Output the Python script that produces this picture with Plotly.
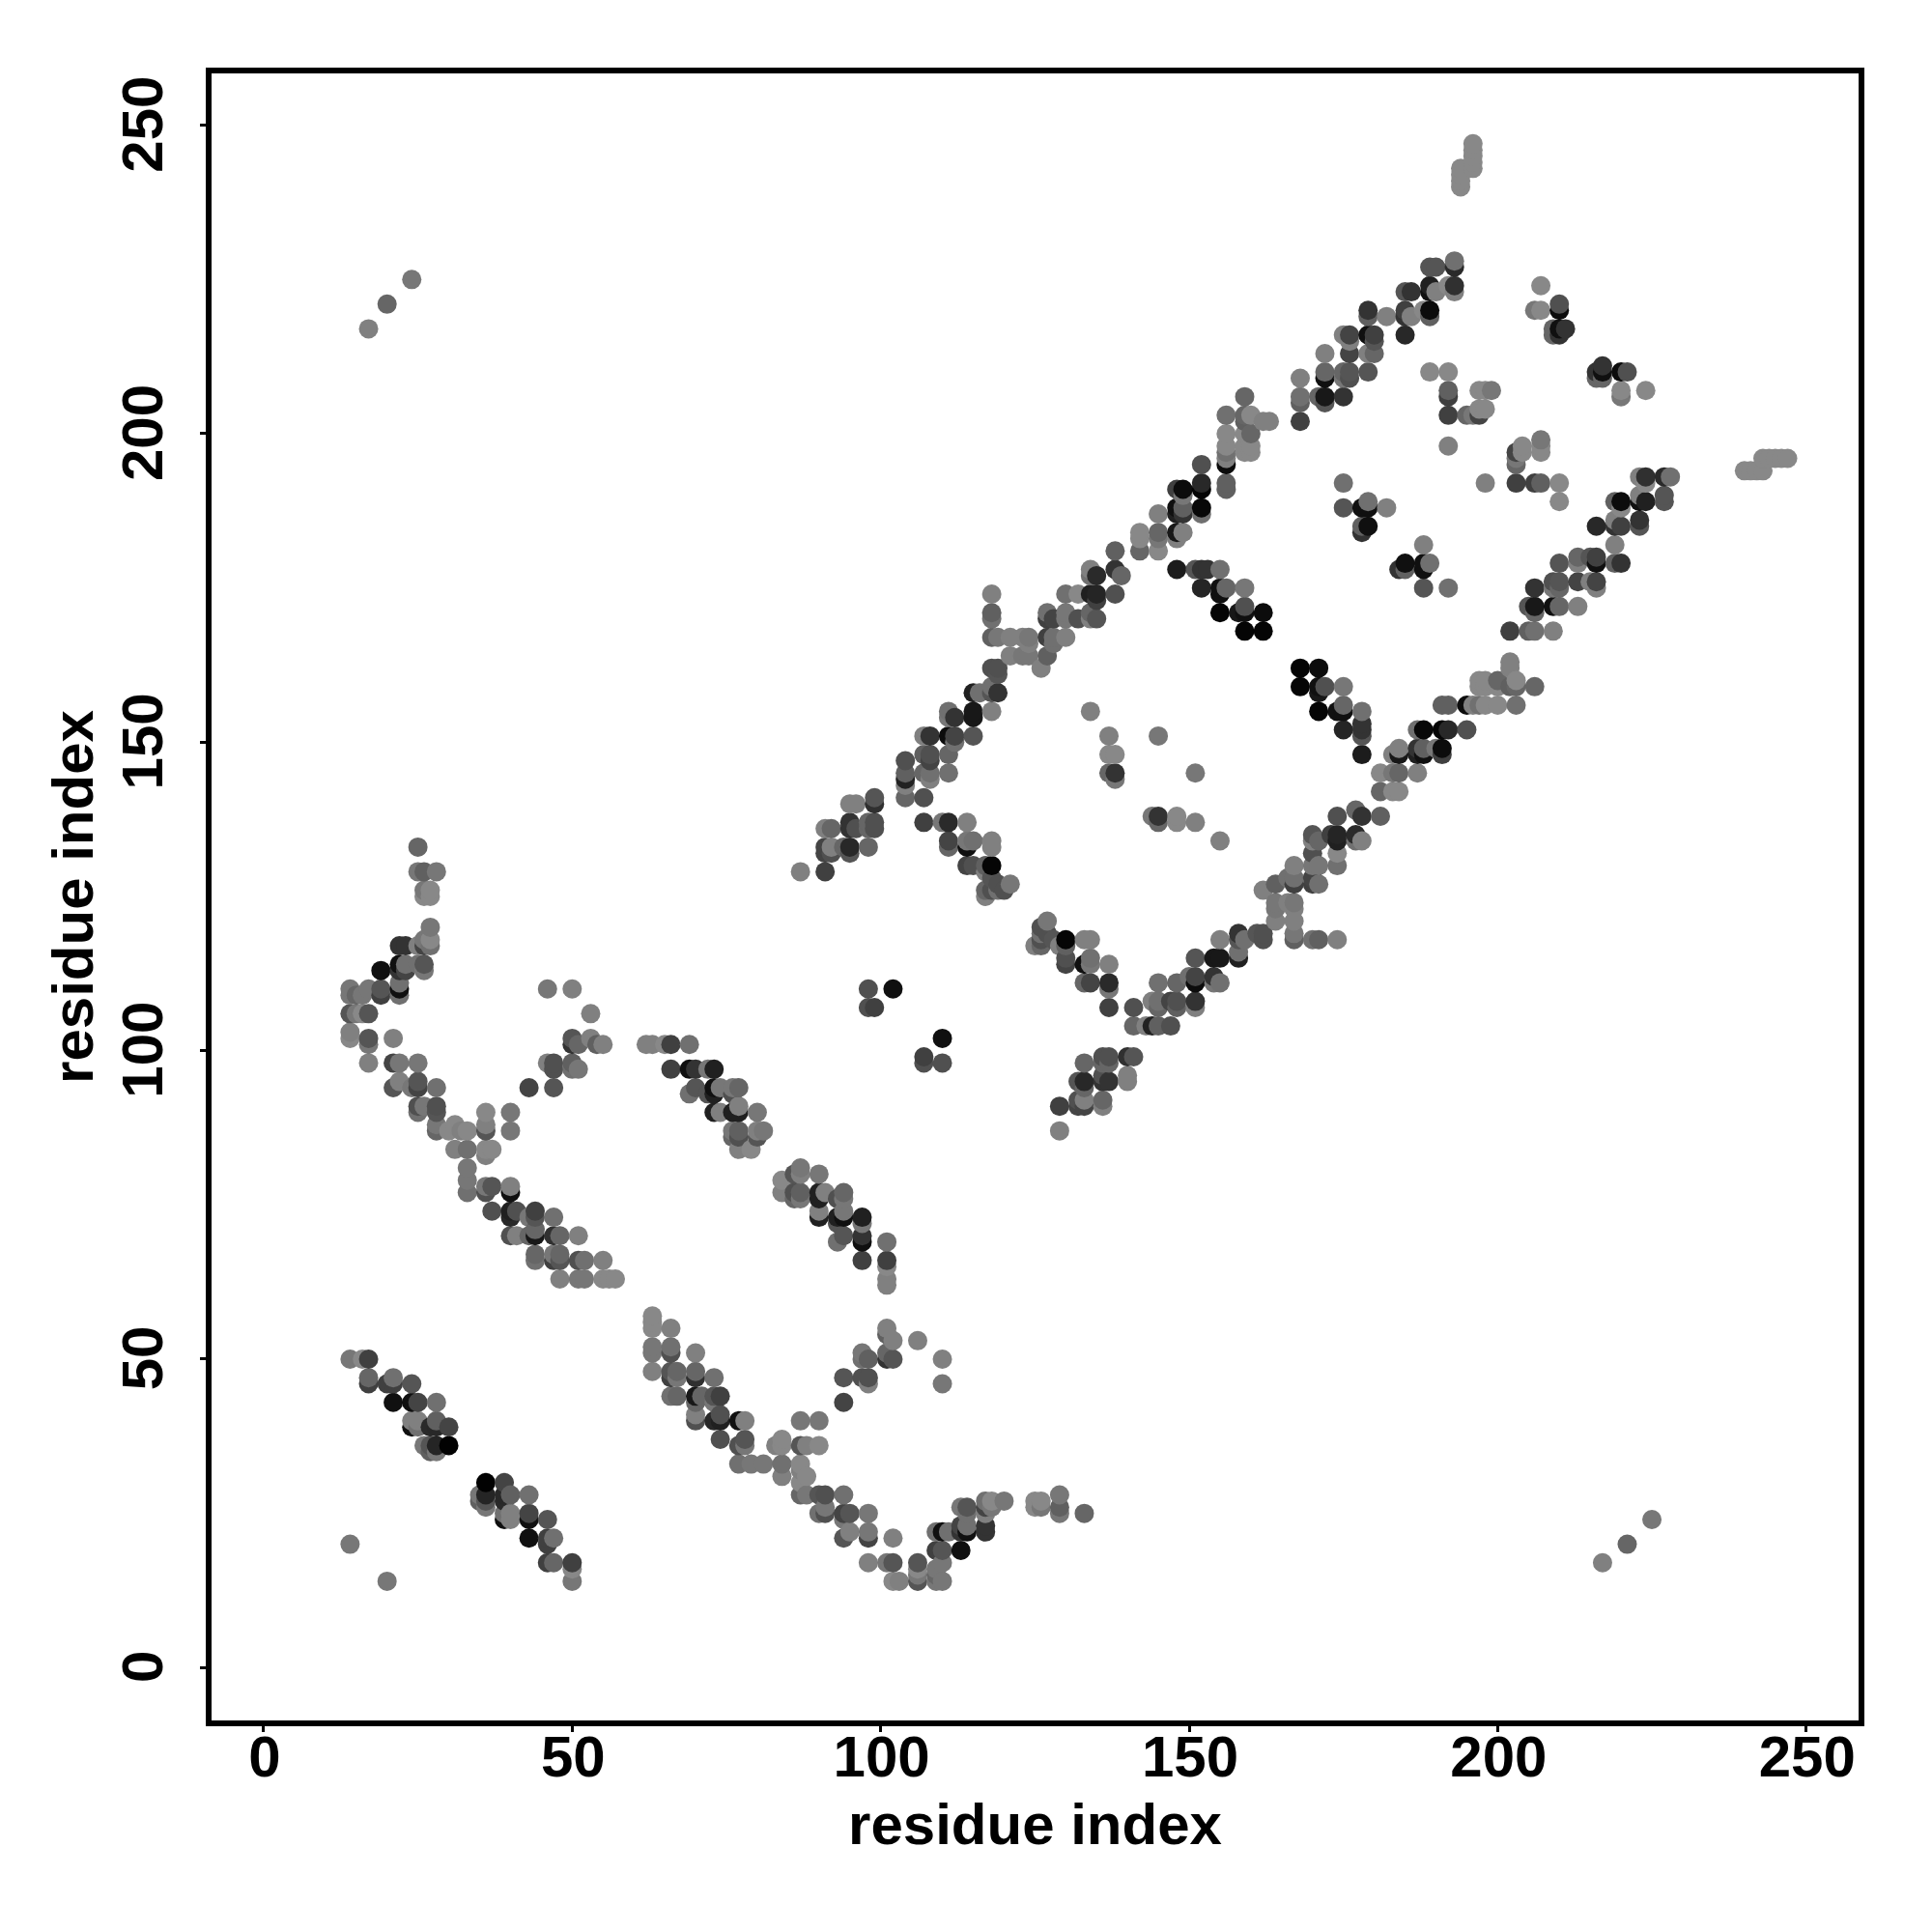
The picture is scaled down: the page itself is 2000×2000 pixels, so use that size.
import plotly.graph_objects as go

# Contact pairs (residue i, residue j, grey level 0-255); the map is symmetric.
top_strip = [
    (194,243,0x88),(194,242,0x88),(194,241,0x88),(194,240,0x88),
    (196,247,0x88),(196,246,0x88),(196,245,0x88),(196,244,0x88),(196,243,0x88),
    (193,228,0x70),(193,227,0x2a),(189,227,0x55),(190,227,0x55),
    (193,224,0x30),(193,223,0x80),(192,224,0x88),(189,224,0x20),(189,223,0x10),(190,223,0x80),
    (185,223,0x55),(186,223,0x33),(189,220,0x0c),(189,219,0x60),(188,220,0x88),
    (185,220,0x40),(185,219,0x33),(186,219,0x80),(185,216,0x28),(179,220,0x33),(179,219,0x60),
    (182,219,0x80),(176,216,0x44),(175,216,0x80),(176,215,0x80),(176,213,0x44),
    (179,216,0x10),(180,216,0x40),(180,215,0x55),(180,213,0x66),(179,213,0x80),(179,210,0x55),
    (172,213,0x80),(172,210,0x66),(172,209,0x10),(175,210,0x66),(176,210,0x55),(176,209,0x50),
    (175,209,0x77),(168,209,0x80),(168,206,0x70),(168,205,0x60),(171,206,0x66),(172,206,0x18),
    (172,205,0x55),(175,206,0x33),(168,202,0x40),(159,206,0x66),
    (156,203,0x70),(156,200,0x88),(156,198,0x88),(156,197,0x70),(156,196,0x80),(156,195,0x0c),
    (156,192,0x60),(156,191,0x60),(159,203,0x66),(160,203,0x88),(159,202,0x60),(160,200,0x66),
    (159,200,0x88),(159,198,0x88),(160,198,0x88),(159,197,0x88),(160,197,0x88),
    (162,202,0x80),(163,202,0x80),
    (152,195,0x50),(152,192,0x28),(152,191,0x05),(152,188,0x08),(152,187,0x70),
    (149,191,0x0c),(148,191,0x40),(149,190,0x77),(148,188,0x10),(149,188,0x60),
    (148,187,0x20),(149,187,0x33),(145,187,0x80),(145,184,0x66),(145,183,0x77),(145,181,0x88),
    (148,184,0x18),(149,184,0x80),(148,183,0x80),(142,184,0x88),(142,183,0x88),(142,181,0x66),
    (138,181,0x60),
]
inner_top = [
    (207,224,0x88),(206,220,0x77),(207,220,0x88),(210,221,0x50),(210,220,0x0c),
    (209,217,0x66),(210,217,0x10),(210,216,0x33),(211,217,0x33),(209,216,0x66),
    (189,210,0x88),(192,210,0x88),(192,207,0x60),(192,206,0x40),(192,203,0x40),
    (195,203,0x66),(196,203,0x77),(197,203,0x44),(197,204,0x88),(198,204,0x88),
    (197,207,0x88),(198,207,0x88),(199,207,0x77),(192,198,0x80),
    (175,192,0x70),(175,188,0x55),(178,188,0x10),(179,188,0x10),(179,189,0x70),(182,188,0x80),
    (179,185,0x10),(178,185,0x60),(178,184,0x33),
    (155,178,0x70),(153,178,0x33),(148,178,0x1c),(151,178,0x55),(152,178,0x33),
    (152,175,0x25),(155,175,0x10),(156,175,0x66),(155,174,0x10),(159,175,0x77),
    (155,171,0x05),(158,171,0x18),(159,172,0x50),(159,171,0x10),(162,171,0x0c),
    (159,168,0x05),(162,168,0x05),
]
mid_strip = [
    (134,178,0x80),(135,177,0x2a),(134,177,0x70),(138,178,0x33),(139,177,0x66),(138,174,0x50),
    (135,174,0x25),(134,174,0x20),(135,173,0x40),(132,174,0x88),(130,174,0x70),(118,174,0x80),
    (118,171,0x60),(118,170,0x70),(127,171,0x70),(127,170,0x40),(128,170,0x44),(130,171,0x77),
    (130,170,0x77),(132,170,0x50),(134,171,0x66),(134,170,0x80),(135,170,0x55),
    (118,167,0x60),(119,167,0x77),(121,167,0x80),(123,167,0x80),(124,167,0x77),(127,167,0x40),
    (128,167,0x70),(130,167,0x80),(121,164,0x80),(123,164,0x77),(124,164,0x77),(127,164,0x60),
    (124,166,0x80),(128,166,0x70),(126,162,0x80),(118,162,0x50),(119,162,0x50),(119,161,0x55),
    (118,159,0x70),(115,158,0x20),(116,158,0x70),(118,158,0x55),(119,158,0x33),(118,155,0x80),
    (115,155,0x18),(115,154,0x18),(111,155,0x70),(112,154,0x33),(111,154,0x77),
    (115,151,0x55),(111,151,0x0c),(112,151,0x44),(112,150,0x70),(107,151,0x80),(108,151,0x33),
    (107,148,0x60),(108,148,0x50),(108,147,0x44),(111,148,0x66),(107,145,0x66),(108,145,0x70),
    (108,144,0x80),(111,145,0x70),(104,147,0x50),(104,145,0x60),(104,144,0x22),(104,143,0x80),
    (104,141,0x66),(107,141,0x50),(99,141,0x55),(99,140,0x30),(95,140,0x80),(96,140,0x80),
    (95,137,0x33),(96,136,0x50),(95,136,0x33),(98,137,0x66),(99,137,0x50),(98,136,0x66),
    (99,136,0x50),(91,136,0x80),(92,136,0x66),(91,133,0x44),(92,133,0x80),(91,132,0x44),
    (92,132,0x50),(95,133,0x28),(94,133,0x66),(95,132,0x55),(98,133,0x66),(91,129,0x40),
    (87,129,0x80),
]
inner_mid = [
    (107,137,0x40),(110,137,0x77),(111,137,0x2a),(114,137,0x80),(111,134,0x44),(111,133,0x66),
    (114,134,0x77),(114,133,0x10),(115,134,0x70),(118,134,0x80),(118,133,0x80),
    (114,130,0x44),(115,130,0x50),(117,130,0x60),(118,130,0x05),(117,129,0x80),(118,128,0x55),
    (121,127,0x77),(120,126,0x50),(119,126,0x70),(119,127,0x50),(118,126,0x50),(117,126,0x66),(117,125,0x80),
    (134,155,0x80),(137,151,0x80),(145,151,0x70),(137,148,0x88),(138,148,0x88),(137,145,0x66),
    (138,145,0x40),(138,144,0x80),(145,151,0x77),(138,144,0x77),(138,145,0x33),(137,145,0x66),
    (138,148,0x88),(137,148,0x88),(137,151,0x80),(134,155,0x80),
    (98,110,0x50),(102,110,0x10),(98,107,0x50),(99,107,0x40),
]
lower_mid = [
    (25,133,0x66),(25,129,0x77),(26,129,0x60),(28,129,0x77),(26,126,0x77),(27,126,0x88),
    (26,125,0x88),(27,125,0x88),(27,120,0x77),(27,118,0x88),(26,118,0x77),(27,117,0x70),
    (26,117,0x44),(22,117,0x33),(23,117,0x33),(25,117,0x80),(22,114,0x10),(23,114,0x70),
    (26,114,0x55),(25,114,0x70),(26,113,0x77),(19,113,0x10),(22,113,0x33),(23,113,0x44),
    (19,110,0x55),(22,111,0x70),(22,110,0x10),(22,109,0x70),(19,109,0x40),
    (14,110,0x77),(14,109,0x77),(15,109,0x66),(16,109,0x77),(17,110,0x77),
    (14,106,0x55),(15,106,0x77),(16,106,0x88),(17,106,0x55),(14,103,0x80),(14,102,0x88),
    (17,102,0x55),(17,101,0x77),(21,102,0x80),(17,98,0x80),(21,98,0x44),(22,98,0x77),(25,98,0x77),
    (21,94,0x55),(22,95,0x80),(24,94,0x77),(25,95,0x55),(25,94,0x44),(28,94,0x70),
    (25,91,0x50),(26,91,0x77),(25,90,0x70),(28,91,0x50),(28,90,0x55),(28,88,0x77),(28,87,0x66),
    (31,88,0x88),(30,87,0x88),(32,87,0x80),(33,87,0x88),(36,90,0x88),(36,88,0x80),(36,87,0x55),
    (40,90,0x77),(40,87,0x77),
    (46,110,0x77),(50,110,0x80),(53,106,0x80),
    (43,94,0x44),(47,94,0x55),(47,98,0x50),(46,98,0x80),(47,97,0x50),(50,98,0x60),(51,97,0x77),
    (50,97,0x70),(50,102,0x55),(50,101,0x33),(51,101,0x66),(53,102,0x80),(54,101,0x60),(55,101,0x80),
    (62,101,0x80),(63,101,0x80),(65,101,0x88),(66,101,0x40),(69,101,0x70),
    (66,97,0x40),(69,97,0x10),(70,97,0x33),(72,97,0x77),(73,97,0x20),
    (70,94,0x55),(69,93,0x70),(72,93,0x55),(73,94,0x10),(73,93,0x20),(74,94,0x77),(76,94,0x77),
    (77,94,0x66),(76,93,0x50),(73,90,0x20),(74,90,0x80),(76,90,0x20),(77,90,0x20),(77,91,0x80),(80,90,0x77),
    (81,87,0x77),(80,86,0x55),(80,87,0x80),(79,84,0x88),(77,84,0x80),(77,86,0x50),(77,87,0x60),
    (76,86,0x66),(76,87,0x77),
    (31,84,0x80),(33,84,0x70),(36,84,0x88),(37,84,0x88),(36,83,0x80),(33,81,0x77),(33,79,0x77),
    (33,77,0x70),(36,78,0x77),(37,78,0x55),(36,77,0x50),(40,78,0x80),(40,77,0x10),
    (37,74,0x50),(40,74,0x20),(41,74,0x50),(40,73,0x28),(44,74,0x40),(44,73,0x55),(47,73,0x70),
    (43,73,0x77),(40,70,0x50),(41,70,0x80),(43,70,0x66),(44,71,0x66),(44,70,0x18),(47,70,0x30),
    (48,70,0x66),(51,70,0x80),(44,67,0x66),(44,66,0x70),(47,67,0x77),(48,67,0x66),(47,66,0x40),
    (48,66,0x55),(51,66,0x50),(52,66,0x70),(55,66,0x80),(48,63,0x80),(51,63,0x77),(52,63,0x77),
    (55,63,0x88),(56,63,0x88),(57,63,0x88),
]
low_corner = [
    (14,50,0x77),(16,50,0x88),(17,50,0x40),(17,47,0x66),(17,46,0x40),(20,46,0x40),(21,47,0x70),
    (21,46,0x40),(24,46,0x55),(21,43,0x10),(24,43,0x10),(25,43,0x44),(28,43,0x70),(24,40,0x80),
    (25,40,0x80),(28,40,0x60),(24,39,0x10),(25,39,0x70),(27,39,0x2a),(28,39,0x28),(30,39,0x44),
    (26,36,0x77),(27,36,0x55),(28,36,0x25),(30,36,0x02),(27,35,0x60),(28,35,0x77),
    (14,20,0x77),(17,217,0x80),(20,221,0x66),(24,225,0x77),
]
all_pairs = top_strip + inner_top + mid_strip + inner_mid + lower_mid + low_corner

tick_values = [0, 50, 100, 150, 200, 250]
axis_label = "residue index"

# One entry per pair, then the mirror half of the symmetric map; drawn in residue order.
unique = {(i, j): g for i, j, g in all_pairs}
points = sorted(list(unique.items()) + [((j, i), g) for (i, j), g in unique.items()],
                key=lambda p: p[0])
xs = [p[0][0] for p in points]
ys = [p[0][1] for p in points]
shade = [p[1] for p in points]

FONT = dict(family="Liberation Sans", size=60, color="black", weight="bold")

fig = go.Figure(go.Scatter(
    x=xs, y=ys, mode="markers",
    marker=dict(size=20, color=shade, cmin=0, cmax=255,
                colorscale=[[0, "#000000"], [1, "#ffffff"]], line=dict(width=0)),
))
common = dict(tickvals=tick_values, showgrid=False, zeroline=False,
              showline=True, mirror=True, linecolor="black", linewidth=6,
              ticks="outside", ticklen=6, tickwidth=2.5, tickcolor="black",
              tickfont=FONT)
fig.update_xaxes(range=[-8.45, 258.5], ticklabelstandoff=-26, ticklabelshift=1,
                 title=dict(text=axis_label, font=FONT, standoff=18), **common)
fig.update_yaxes(range=[-8.56, 258.4], tickangle=-90, ticklabelstandoff=15, ticklabelshift=8,
                 title=dict(text=axis_label, font=FONT, standoff=0), **common)
fig.update_layout(width=2000, height=2000, plot_bgcolor="white", paper_bgcolor="white",
                  margin=dict(l=211, r=84, t=68, b=227), showlegend=False)
fig.write_html("out.html")
